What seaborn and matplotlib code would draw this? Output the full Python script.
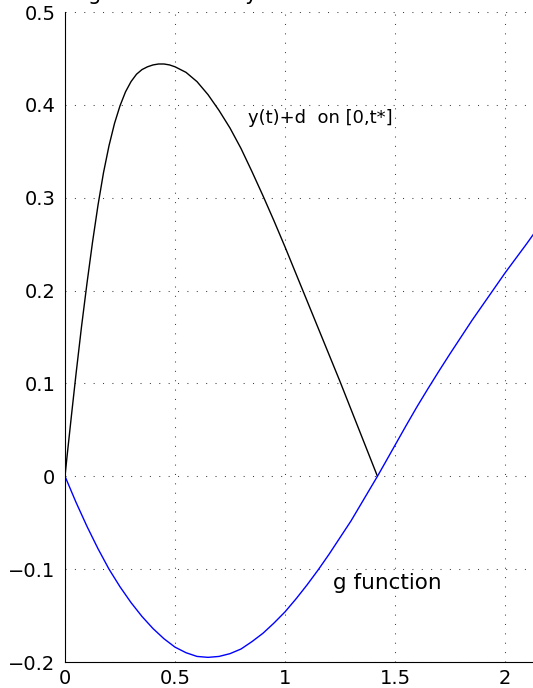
import matplotlib
matplotlib.use("Agg")
import matplotlib.pyplot as plt
import seaborn as sns
import pandas as pd

# trajectory y(t)+d on [0, t*]
traj_t = [0.0, 0.01, 0.02, 0.03, 0.05, 0.075, 0.1, 0.125, 0.15, 0.175, 0.2, 0.225,
          0.25, 0.275, 0.3, 0.325, 0.35, 0.375, 0.4, 0.425, 0.45, 0.475, 0.5, 0.55,
          0.6, 0.65, 0.7, 0.75, 0.8, 0.85, 0.9, 0.95, 1.0, 1.05, 1.1, 1.15, 1.2,
          1.25, 1.3, 1.35, 1.42]
traj_v = [0.0, 0.023, 0.045, 0.067, 0.11, 0.161, 0.208, 0.252, 0.292, 0.327, 0.356,
          0.38, 0.399, 0.414, 0.425, 0.433, 0.438, 0.441, 0.443, 0.444, 0.444, 0.443,
          0.441, 0.435, 0.425, 0.411, 0.394, 0.375, 0.353, 0.328, 0.302, 0.275,
          0.247, 0.218, 0.189, 0.16, 0.131, 0.102, 0.072, 0.042, 0.0]

# g function
g_t = [0.0, 0.05, 0.1, 0.15, 0.2, 0.25, 0.3, 0.35, 0.4, 0.45, 0.5, 0.55, 0.6, 0.65,
       0.7, 0.75, 0.8, 0.85, 0.9, 0.95, 1.0, 1.05, 1.1, 1.15, 1.2, 1.25, 1.3, 1.35,
       1.42, 1.45, 1.5, 1.55, 1.6, 1.65, 1.7, 1.75, 1.8, 1.85, 1.9, 1.95, 2.0,
       2.05, 2.1, 2.13]
g_v = [0.0, -0.028, -0.054, -0.078, -0.1, -0.119, -0.136, -0.151, -0.164, -0.175,
       -0.184, -0.19, -0.194, -0.195, -0.194, -0.191, -0.186, -0.178, -0.169,
       -0.158, -0.146, -0.132, -0.117, -0.101, -0.084, -0.066, -0.048, -0.028,
       0.0, 0.0125, 0.0335, 0.0545, 0.075, 0.0945, 0.1135, 0.132, 0.15, 0.168,
       0.185, 0.202, 0.219, 0.235, 0.251, 0.261]

x_ticks = [0, 0.5, 1, 1.5, 2]
x_tick_labels = ["0", "0.5", "1", "1.5", "2"]
y_ticks = [-0.2, -0.1, 0, 0.1, 0.2, 0.3, 0.4, 0.5]
y_tick_labels = ["\u22120.2", "\u22120.1", "0", "0.1", "0.2", "0.3", "0.4", "0.5"]

traj_df = pd.DataFrame({"t": traj_t, "v": traj_v})
g_df = pd.DataFrame({"t": g_t, "v": g_v})

sns.set_style("white")
plt.rcParams["font.family"] = ["DejaVu Sans"]
plt.rcParams["text.color"] = "black"

W, H = 533, 688
fig = plt.figure(figsize=(W / 100, H / 100), dpi=100)
left, right, top, bottom = 65, 533, 12, 662
ax = fig.add_axes([left / W, 1 - bottom / H, (right - left) / W, (bottom - top) / H])

sns.lineplot(data=traj_df, x="t", y="v", ax=ax, color="black", lw=1.0,
             sort=False, estimator=None)
sns.lineplot(data=g_df, x="t", y="v", ax=ax, color="#0000ff", lw=1.0,
             sort=False, estimator=None)

ax.set_xlim(0, 2.127)
ax.set_ylim(-0.2, 0.5)
ax.set_xticks(x_ticks)
ax.set_xticklabels(x_tick_labels)
ax.set_yticks(y_ticks)
ax.set_yticklabels(y_tick_labels)
ax.set_xlabel("")
ax.set_ylabel("")

ax.grid(True, color="0.25", linestyle=(0, (1, 8)), linewidth=0.75)
for side in ["top", "right"]:
    ax.spines[side].set_visible(False)
for side in ["left", "bottom"]:
    ax.spines[side].set_color("black")
    ax.spines[side].set_linewidth(0.8)

ax.tick_params(axis="both", direction="in", length=5.5, width=0.8,
               colors="black", labelsize=14)
ax.tick_params(axis="x", pad=5)
ax.tick_params(axis="y", pad=7)

ax.text(0.832, 0.386, "y(t)+d  on [0,t*]", fontsize=13, color="black",
        va="center", ha="left")
ax.text(1.218, -0.115, "g function", fontsize=15.5, color="black",
        va="center", ha="left")

fig.text(88 / W, 1.0, "g function and y", fontsize=15, color="black",
         ha="left", va="baseline")

fig.savefig("out.png", dpi=100)
